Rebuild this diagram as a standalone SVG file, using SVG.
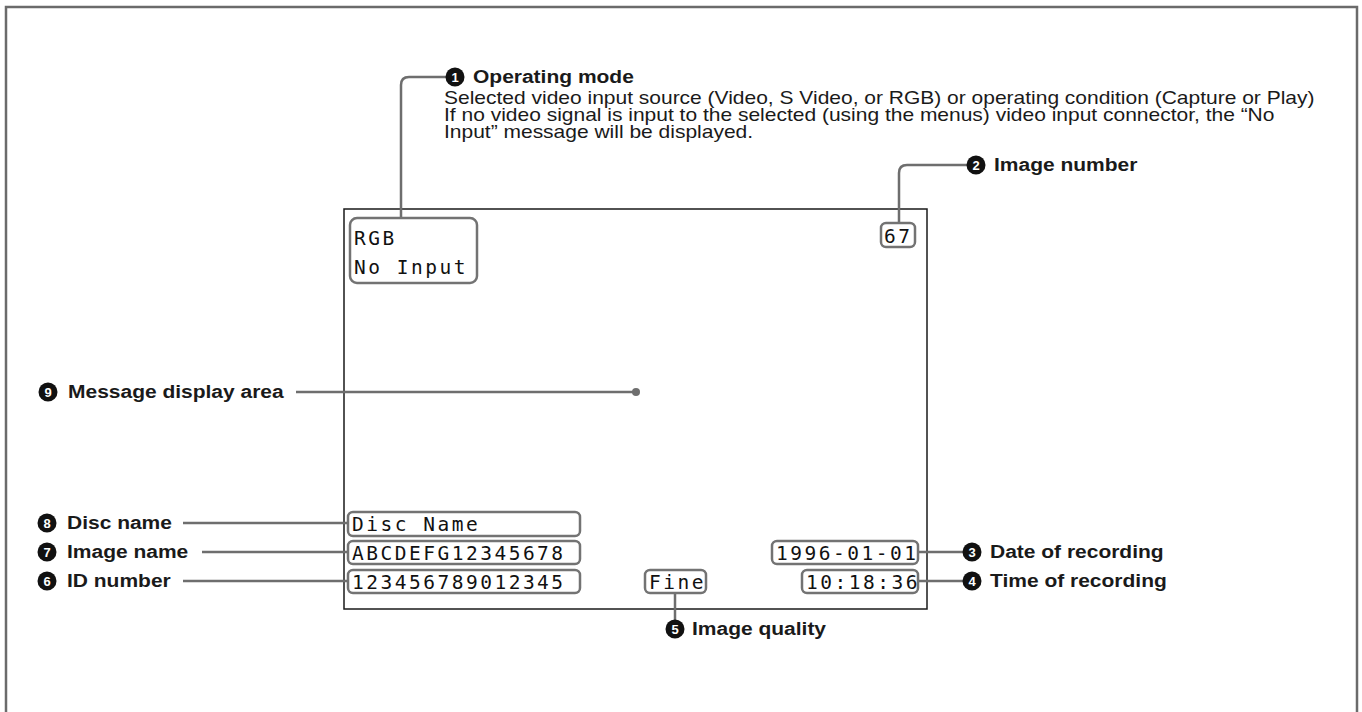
<svg xmlns="http://www.w3.org/2000/svg" width="1362" height="712" viewBox="0 0 1362 712">
<style>
.frame{fill:none;stroke:#6b6b6b;stroke-width:2.5}
.screen{fill:none;stroke:#1a1a1a;stroke-width:1.5}
.box{fill:none;stroke:#737373;stroke-width:2.5}
.lcd{font-family:"DejaVu Sans Mono",monospace;font-size:19.5px;letter-spacing:2.5px;fill:#111}
.lbl{font-family:"Liberation Sans",Arial,sans-serif;font-weight:bold;font-size:18.5px;fill:#1a1a1a}
.desc{font-family:"Liberation Sans",Arial,sans-serif;font-size:17.5px;fill:#1a1a1a}
.conn{fill:none;stroke:#6e6e6e;stroke-width:2.5}
.bul{fill:#111}
.num{font-family:"Liberation Sans",Arial,sans-serif;font-weight:bold;font-size:13px;fill:#fff;text-anchor:middle}
</style>
<rect class="frame" x="6" y="7" width="1351" height="730"/>
<g id="screen"><rect class="screen" x="344" y="209" width="583" height="400"/></g>
<g id="connectors">
<path class="conn" d="M401,218 V85 Q401,77 409,77 H446"/>
<path class="conn" d="M899,223 V173 Q899,165 907,165 H967"/>
<path class="conn" d="M296,392 H634"/>
<circle cx="636" cy="392" r="4" fill="#6e6e6e"/>
<path class="conn" d="M183,523 H348"/>
<path class="conn" d="M202,552 H348"/>
<path class="conn" d="M183,581 H348"/>
<path class="conn" d="M918,552 H963"/>
<path class="conn" d="M918,581 H963"/>
<path class="conn" d="M675,593 V620"/>
</g>
<g id="operating-mode">
<rect class="box" x="350" y="218" width="127" height="65" rx="7"/>
<text class="lcd" x="354" y="245">RGB</text>
<text class="lcd" x="354" y="274">No Input</text>
<circle class="bul" cx="455" cy="77" r="9.5"/><text class="num" x="455" y="81.7">1</text>
<text class="lbl" transform="translate(473,83) scale(1.135,1)">Operating mode</text>
<g transform="translate(444,0) scale(1.2,1)">
<text class="desc" x="0" y="104">Selected video input source (Video, S Video, or RGB) or operating condition (Capture or Play)</text>
<text class="desc" x="0" y="121">If no video signal is input to the selected (using the menus) video input connector, the “No</text>
<text class="desc" x="0" y="138">Input” message will be displayed.</text>
</g>
</g>
<g id="image-number">
<rect class="box" x="881" y="223" width="34" height="24" rx="5"/>
<text class="lcd" x="884" y="243">67</text>
<circle class="bul" cx="976" cy="165" r="9.5"/><text class="num" x="976" y="169.7">2</text>
<text class="lbl" transform="translate(994,171) scale(1.135,1)">Image number</text>
</g>
<g id="message-area">
<circle class="bul" cx="48" cy="392" r="9.5"/><text class="num" x="48" y="396.7">9</text>
<text class="lbl" transform="translate(68,398) scale(1.135,1)">Message display area</text>
</g>
<g id="disc-name">
<rect class="box" x="348" y="512" width="232" height="24" rx="5"/>
<text class="lcd" x="352" y="531">Disc Name</text>
<circle class="bul" cx="47" cy="523" r="9.5"/><text class="num" x="47" y="527.7">8</text>
<text class="lbl" transform="translate(67,529) scale(1.135,1)">Disc name</text>
</g>
<g id="image-name">
<rect class="box" x="348" y="541" width="232" height="23" rx="5"/>
<text class="lcd" x="352" y="560">ABCDEFG12345678</text>
<circle class="bul" cx="47" cy="552" r="9.5"/><text class="num" x="47" y="556.7">7</text>
<text class="lbl" transform="translate(67,558) scale(1.135,1)">Image name</text>
</g>
<g id="id-number">
<rect class="box" x="348" y="570" width="232" height="23" rx="5"/>
<text class="lcd" x="352" y="589">123456789012345</text>
<circle class="bul" cx="47" cy="581" r="9.5"/><text class="num" x="47" y="585.7">6</text>
<text class="lbl" transform="translate(67,587) scale(1.135,1)">ID number</text>
</g>
<g id="date-of-recording">
<rect class="box" x="772" y="541" width="146" height="23" rx="5"/>
<text class="lcd" x="776" y="560">1996-01-01</text>
<circle class="bul" cx="972" cy="552" r="9.5"/><text class="num" x="972" y="556.7">3</text>
<text class="lbl" transform="translate(990,558) scale(1.135,1)">Date of recording</text>
</g>
<g id="time-of-recording">
<rect class="box" x="802" y="570" width="116" height="23" rx="5"/>
<text class="lcd" x="806" y="589">10:18:36</text>
<circle class="bul" cx="972" cy="581" r="9.5"/><text class="num" x="972" y="585.7">4</text>
<text class="lbl" transform="translate(990,587) scale(1.135,1)">Time of recording</text>
</g>
<g id="image-quality">
<rect class="box" x="645" y="570" width="61" height="23" rx="5"/>
<text class="lcd" x="649" y="589">Fine</text>
<circle class="bul" cx="675" cy="629" r="9.5"/><text class="num" x="675" y="633.7">5</text>
<text class="lbl" transform="translate(692,635) scale(1.135,1)">Image quality</text>
</g>
</svg>
